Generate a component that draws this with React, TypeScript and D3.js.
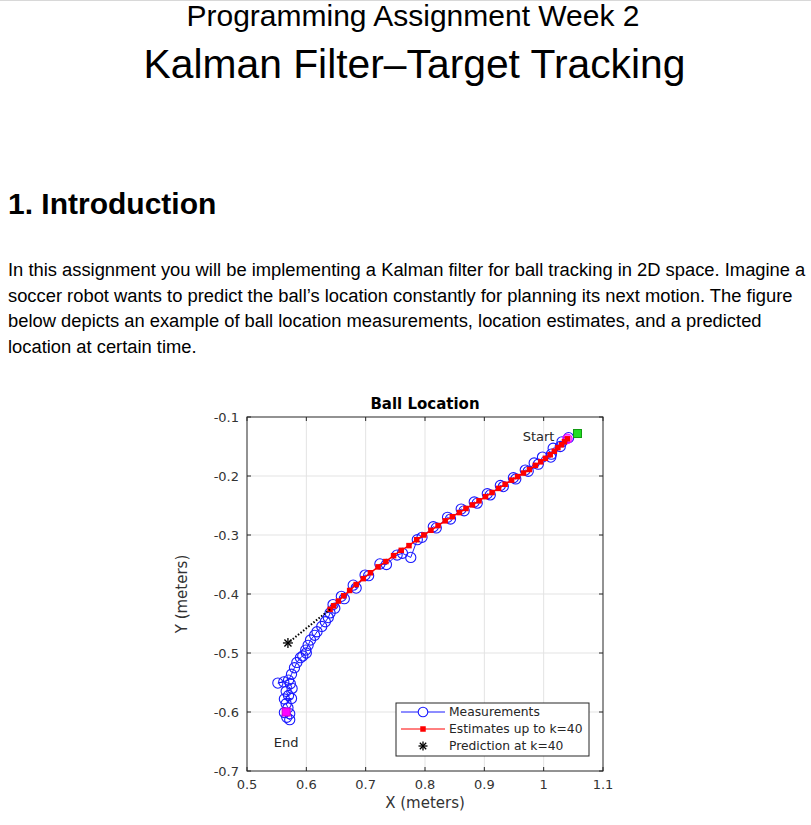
import React from "react";
import * as d3 from "d3";

// ---------- data ----------
const xTicks = [0.5, 0.6, 0.7, 0.8, 0.9, 1.0, 1.1];
const xTickLabels = ["0.5", "0.6", "0.7", "0.8", "0.9", "1", "1.1"];
const yTicks = [-0.1, -0.2, -0.3, -0.4, -0.5, -0.6, -0.7];
const yTickLabels = ["-0.1", "-0.2", "-0.3", "-0.4", "-0.5", "-0.6", "-0.7"];

const measX = [
  1.042, 1.031, 1.028, 1.016, 1.013, 1.012, 0.998, 0.991, 0.984, 0.974,
  0.969, 0.953, 0.949, 0.932, 0.927, 0.91, 0.905, 0.888, 0.883, 0.866,
  0.861, 0.843, 0.838, 0.819, 0.814, 0.795, 0.787, 0.776, 0.762, 0.753,
  0.735, 0.724, 0.705, 0.699, 0.684, 0.679, 0.664, 0.659, 0.648, 0.645,
  0.64, 0.637, 0.632, 0.626, 0.618, 0.614, 0.607, 0.603, 0.599, 0.6,
  0.594, 0.59, 0.584, 0.58, 0.575, 0.57, 0.552, 0.562, 0.573, 0.576,
  0.566, 0.57, 0.563, 0.575, 0.566, 0.569, 0.563, 0.572, 0.567, 0.572,
];
const measY = [
  -0.135, -0.142, -0.15, -0.153, -0.163, -0.168, -0.168, -0.18, -0.178, -0.192,
  -0.19, -0.205, -0.203, -0.218, -0.216, -0.232, -0.23, -0.246, -0.244, -0.259,
  -0.256, -0.273, -0.27, -0.288, -0.286, -0.304, -0.308, -0.338, -0.331, -0.334,
  -0.35, -0.349, -0.369, -0.368, -0.39, -0.385, -0.408, -0.404, -0.424, -0.418,
  -0.432, -0.44, -0.447, -0.455, -0.464, -0.47, -0.478, -0.487, -0.495, -0.5,
  -0.505, -0.508, -0.516, -0.525, -0.536, -0.546, -0.551, -0.549, -0.552, -0.56,
  -0.565, -0.572, -0.578, -0.577, -0.586, -0.593, -0.601, -0.603, -0.609, -0.613,
];

const estX = [
  1.04, 1.035, 1.03, 1.024, 1.018, 1.011, 1.003, 0.995, 0.986, 0.976,
  0.966, 0.956, 0.946, 0.935, 0.924, 0.913, 0.902, 0.891, 0.88, 0.869,
  0.858, 0.846, 0.834, 0.822, 0.81, 0.798, 0.786, 0.773, 0.76, 0.747,
  0.734, 0.721, 0.708, 0.696, 0.684, 0.673, 0.663, 0.654, 0.646, 0.64,
];
const estY = [
  -0.137, -0.142, -0.147, -0.152, -0.158, -0.164, -0.17, -0.176, -0.182, -0.189,
  -0.195, -0.201, -0.207, -0.214, -0.221, -0.228, -0.235, -0.242, -0.249, -0.255,
  -0.262, -0.269, -0.276, -0.284, -0.292, -0.3, -0.308, -0.318, -0.326, -0.335,
  -0.345, -0.354, -0.364, -0.374, -0.384, -0.394, -0.403, -0.412, -0.42, -0.426,
];

const predX = [0.569];
const predY = [-0.483];
const startMark = [1.057, -0.128];
const startPoint = [1.04, -0.137];
const endPoint = [0.566, -0.6];

const legendLabels = ["Measurements", "Estimates up to k=40", "Prediction at k=40"];
const paragraph = [
  "In this assignment you will be implementing a Kalman filter for ball tracking in 2D space. Imagine a",
  "soccer robot wants to predict the ball\u2019s location constantly for planning its next motion. The figure",
  "below depicts an example of ball location measurements, location estimates, and a predicted",
  "location at certain time.",
];

// ---------- layout ----------
const W = 811;
const H = 825;
const plot = { left: 247, right: 603, top: 417, bottom: 771 };
const axisColor = "#262626";
const chartFont = "'DejaVu Sans', sans-serif";
const pageFont = "'Liberation Sans', Arial, sans-serif";

function Asterisk({ cx, cy, r, w = 1.3 }: { cx: number; cy: number; r: number; w?: number }) {
  const d = r * 0.707;
  return (
    <g stroke="#000" strokeWidth={w}>
      <line x1={cx - r} y1={cy} x2={cx + r} y2={cy} />
      <line x1={cx} y1={cy - r} x2={cx} y2={cy + r} />
      <line x1={cx - d} y1={cy - d} x2={cx + d} y2={cy + d} />
      <line x1={cx - d} y1={cy + d} x2={cx + d} y2={cy - d} />
    </g>
  );
}

export default function App() {
  const x = d3.scaleLinear().domain([0.5, 1.1]).range([plot.left, plot.right]);
  const y = d3.scaleLinear().domain([-0.7, -0.1]).range([plot.bottom, plot.top]);

  const meas = measX.map((v, i) => [v, measY[i]] as [number, number]);
  const est = estX.map((v, i) => [v, estY[i]] as [number, number]);
  const line = d3
    .line<[number, number]>()
    .x((d) => x(d[0]))
    .y((d) => y(d[1]));

  const last = est[est.length - 1];
  const predLine = line([last, [predX[0], predY[0]]]) || "";
  const tickLen = 4;

  const legend = { x: 396, y: 703, w: 193, h: 53 };
  const rowY = [712, 729, 746];

  return (
    <div style={{ position: "absolute", left: 0, top: 0 }}>
      <svg width={W} height={H} style={{ display: "block", background: "#fff" }}>
        <line x1={0} x2={W} y1={0.5} y2={0.5} stroke="#d8d8d8" />
        {/* page header */}
        <text x={413} y={26} textAnchor="middle" fontFamily={pageFont} fontSize={30} fill="#000">
          Programming Assignment Week 2
        </text>
        <text x={414.5} y={78} textAnchor="middle" fontFamily={pageFont} fontSize={40.8} fill="#000">
          Kalman Filter–Target Tracking
        </text>
        <text x={8} y={214} fontFamily={pageFont} fontSize={30} fontWeight="bold" fill="#000">
          1. Introduction
        </text>
        {paragraph.map((t, i) => (
          <text key={i} x={8} y={276 + i * 25.6} fontFamily={pageFont} fontSize={18.35} fill="#000">
            {t}
          </text>
        ))}

        {/* plot background */}
        <rect x={plot.left} y={plot.top} width={plot.right - plot.left} height={plot.bottom - plot.top} fill="#fff" />
        {/* grid */}
        <g stroke="#e3e3e3" strokeWidth={1}>
          {xTicks.slice(1, -1).map((t) => (
            <line key={t} x1={x(t)} x2={x(t)} y1={plot.top} y2={plot.bottom} />
          ))}
          {yTicks.slice(1, -1).map((t) => (
            <line key={t} x1={plot.left} x2={plot.right} y1={y(t)} y2={y(t)} />
          ))}
        </g>

        {/* measurements */}
        <path d={line(meas) || ""} fill="none" stroke="#0000ff" strokeWidth={0.9} />
        <g fill="none" stroke="#1a1aff" strokeWidth={1.1}>
          {meas.map((d, i) => (
            <circle key={i} cx={x(d[0])} cy={y(d[1])} r={5.1} />
          ))}
        </g>
        {/* start magenta */}
        <circle cx={x(startPoint[0])} cy={y(startPoint[1])} r={4.8} fill="#ff00ff" fillOpacity={0.6} stroke="#ff00ff" />
        {/* estimates */}
        <path d={line(est) || ""} fill="none" stroke="#ff0000" strokeWidth={1.5} />
        <g fill="#ff0000">
          {est.map((d, i) => (
            <rect key={i} x={x(d[0]) - 2.75} y={y(d[1]) - 2.75} width={5.5} height={5.5} />
          ))}
        </g>
        {/* prediction */}
        <path d={predLine} fill="none" stroke="#000" strokeWidth={2} strokeDasharray="1.5,1.8" />
        <Asterisk cx={x(predX[0])} cy={y(predY[0])} r={5} />
        {/* start/end markers */}
        <rect x={x(startMark[0]) - 4} y={y(startMark[1]) - 4} width={8} height={8} fill="#22dd22" stroke="#119911" strokeWidth={1} />
        <rect x={x(endPoint[0]) - 4} y={y(endPoint[1]) - 4} width={8} height={8} fill="#ff00ff" stroke="#cc00cc" strokeWidth={1} />
        <text x={x(startPoint[0]) - 13} y={y(startPoint[1]) + 2} textAnchor="end" fontFamily={chartFont} fontSize={13} fill={axisColor}>
          Start
        </text>
        <text x={x(endPoint[0])} y={y(endPoint[1]) + 35} textAnchor="middle" fontFamily={chartFont} fontSize={13} fill={axisColor}>
          End
        </text>

        {/* axes box and ticks */}
        <rect x={plot.left} y={plot.top} width={plot.right - plot.left} height={plot.bottom - plot.top} fill="none" stroke={axisColor} strokeWidth={1} />
        <g stroke={axisColor} strokeWidth={1}>
          {xTicks.map((t) => (
            <g key={t}>
              <line x1={x(t)} x2={x(t)} y1={plot.bottom} y2={plot.bottom - tickLen} />
              <line x1={x(t)} x2={x(t)} y1={plot.top} y2={plot.top + tickLen} />
            </g>
          ))}
          {yTicks.map((t) => (
            <g key={t}>
              <line x1={plot.left} x2={plot.left + tickLen} y1={y(t)} y2={y(t)} />
              <line x1={plot.right} x2={plot.right - tickLen} y1={y(t)} y2={y(t)} />
            </g>
          ))}
        </g>
        <g fontFamily={chartFont} fontSize={13} fill="#333">
          {xTicks.map((t, i) => (
            <text key={t} x={x(t)} y={plot.bottom + 18} textAnchor="middle">
              {xTickLabels[i]}
            </text>
          ))}
          {yTicks.map((t, i) => (
            <text key={t} x={plot.left - 8} y={y(t) + 4.5} textAnchor="end">
              {yTickLabels[i]}
            </text>
          ))}
        </g>
        <text x={(plot.left + plot.right) / 2} y={409} textAnchor="middle" fontFamily={chartFont} fontSize={15} fontWeight="bold" fill="#000">
          Ball Location
        </text>
        <text x={(plot.left + plot.right) / 2} y={808} textAnchor="middle" fontFamily={chartFont} fontSize={15} fill="#333">
          X (meters)
        </text>
        <text
          transform={`translate(187, ${(plot.top + plot.bottom) / 2}) rotate(-90)`}
          textAnchor="middle"
          fontFamily={chartFont}
          fontSize={15}
          fill="#333"
        >
          Y (meters)
        </text>

        {/* legend */}
        <rect x={legend.x} y={legend.y} width={legend.w} height={legend.h} fill="#fff" stroke={axisColor} strokeWidth={1} />
        <line x1={401} x2={445} y1={rowY[0]} y2={rowY[0]} stroke="#0000ff" strokeWidth={0.9} />
        <circle cx={423} cy={rowY[0]} r={4.8} fill="#fff" stroke="#1a1aff" strokeWidth={1.1} />
        <line x1={401} x2={445} y1={rowY[1]} y2={rowY[1]} stroke="#ff0000" strokeWidth={1} />
        <rect x={420.25} y={rowY[1] - 2.75} width={5.5} height={5.5} fill="#ff0000" />
        <Asterisk cx={423} cy={rowY[2]} r={4.5} />
        <g fontFamily={chartFont} fontSize={12.3} fill="#262626">
          {legendLabels.map((t, i) => (
            <text key={t} x={449} y={rowY[i] + 4.3}>
              {t}
            </text>
          ))}
        </g>
      </svg>
    </div>
  );
}
